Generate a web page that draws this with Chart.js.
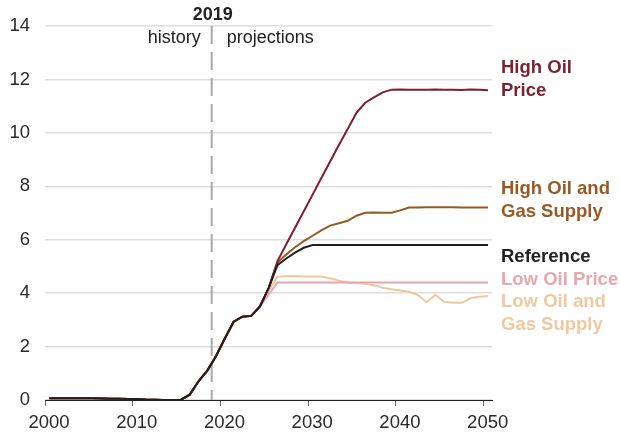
<!DOCTYPE html>
<html>
<head>
<meta charset="utf-8">
<script src="https://cdn.jsdelivr.net/npm/chart.js@4/dist/chart.umd.min.js"></script>
<style>
  html, body { margin: 0; padding: 0; background: #fff; }
  canvas { display: block; }
</style>
</head>
<body>
<canvas id="myChart" width="620" height="435"></canvas>
<script>
// annual values, 2000-2050
var years = [];
for (var y = 2000; y <= 2050; y++) years.push(y);

// shared history and early projection, 2000-2024
var sharedPast = [0.07, 0.07, 0.07, 0.07, 0.07, 0.07, 0.06, 0.05, 0.05, 0.04,
                  0.04, 0.02, 0.01, 0.00, 0.00, 0.01, 0.20, 0.70, 1.10, 1.65,
                  2.30, 2.93, 3.12, 3.15, 3.50];

// case projections, 2025-2050
var referenceCase = [4.20, 5.05, 5.30, 5.52, 5.70, 5.80, 5.80, 5.80, 5.80, 5.80,
                     5.80, 5.80, 5.80, 5.80, 5.80, 5.80, 5.80, 5.80, 5.80, 5.80,
                     5.80, 5.80, 5.80, 5.80, 5.80, 5.80];
var highOilPrice = [4.20, 5.20, 5.83, 6.45, 7.07, 7.69, 8.31, 8.93, 9.55, 10.15,
                    10.75, 11.13, 11.33, 11.52, 11.62, 11.63, 11.62, 11.62, 11.62, 11.63,
                    11.62, 11.62, 11.61, 11.63, 11.62, 11.60];
var highOilGas = [4.20, 5.15, 5.45, 5.72, 5.95, 6.15, 6.35, 6.53, 6.62, 6.71,
                  6.90, 7.01, 7.02, 7.01, 7.01, 7.10, 7.21, 7.21, 7.22, 7.22,
                  7.22, 7.22, 7.21, 7.21, 7.21, 7.21];
var lowOilPrice = [3.95, 4.40, 4.40, 4.40, 4.40, 4.40, 4.40, 4.40, 4.40, 4.40,
                   4.40, 4.40, 4.40, 4.40, 4.40, 4.40, 4.40, 4.40, 4.40, 4.40,
                   4.40, 4.40, 4.40, 4.40, 4.40, 4.40];
var lowOilGas = [4.10, 4.62, 4.63, 4.63, 4.62, 4.62, 4.62, 4.56, 4.47, 4.40,
                 4.38, 4.35, 4.30, 4.20, 4.15, 4.10, 4.05, 3.93, 3.66, 3.94,
                 3.68, 3.64, 3.64, 3.81, 3.87, 3.89];

var xTicks = [2000, 2010, 2020, 2030, 2040, 2050];
var yTicks = [0, 2, 4, 6, 8, 10, 12, 14];
var divideYear = 2019;

var FONT = '"Liberation Sans", Arial, sans-serif';

// annual values sit in the middle of their year
function series(proj) {
    return sharedPast.concat(proj).map(function(v, i) {
        return { x: years[i] + 0.5, y: v };
    });
}

function line(label, proj, color) {
    return {
        label: label,
        data: series(proj),
        borderColor: color,
        borderWidth: 2,
        pointRadius: 0,
        tension: 0,
        fill: false
    };
}

// history / projections divider and the case names at the right
var annotations = {
    id: 'annotations',
    beforeDatasetsDraw: function(chart) {
        var ctx = chart.ctx;
        var x = chart.scales.x.getPixelForValue(divideYear);
        ctx.save();
        ctx.strokeStyle = '#a9a9a9';
        ctx.lineWidth = 2;
        ctx.setLineDash([18, 8]);
        ctx.beginPath();
        ctx.moveTo(x, chart.chartArea.top);
        ctx.lineTo(x, chart.chartArea.bottom);
        ctx.stroke();
        ctx.restore();
    },
    afterDraw: function(chart) {
        var ctx = chart.ctx;
        var x = chart.scales.x.getPixelForValue(divideYear);
        ctx.save();
        ctx.textBaseline = 'alphabetic';
        ctx.fillStyle = '#222';
        ctx.font = 'bold 18px ' + FONT;
        ctx.textAlign = 'center';
        ctx.fillText(String(divideYear), x + 1, 20);
        ctx.font = '18px ' + FONT;
        ctx.textAlign = 'right';
        ctx.fillText('history', x - 11, 43);
        ctx.textAlign = 'left';
        ctx.fillText('projections', x + 15, 43);

        var names = [
            { lines: ['High Oil', 'Price'], color: '#7b2232', y: 73 },
            { lines: ['High Oil and', 'Gas Supply'], color: '#975a24', y: 194 },
            { lines: ['Reference'], color: '#222222', y: 262 },
            { lines: ['Low Oil Price'], color: '#e9a6ae', y: 285 },
            { lines: ['Low Oil and', 'Gas Supply'], color: '#f1c9a0', y: 307 }
        ];
        ctx.font = 'bold 18.5px ' + FONT;
        ctx.textAlign = 'left';
        names.forEach(function(n) {
            ctx.fillStyle = n.color;
            n.lines.forEach(function(t, i) {
                ctx.fillText(t, 501, n.y + i * 22.5);
            });
        });
        ctx.restore();
    }
};

var ctx = document.getElementById('myChart').getContext('2d');

new Chart(ctx, {
    type: 'line',
    plugins: [annotations],
    data: {
        datasets: [
            line('Reference', referenceCase, '#231f20'),
            line('High Oil Price', highOilPrice, '#7d1f2e'),
            line('High Oil and Gas Supply', highOilGas, '#98581f'),
            line('Low Oil Price', lowOilPrice, '#eaa3ac'),
            line('Low Oil and Gas Supply', lowOilGas, '#f0c79d')
        ]
    },
    options: {
        responsive: false,
        animation: false,
        devicePixelRatio: 1,
        layout: {
            padding: { top: 26, right: 128, bottom: 0, left: 0 }
        },
        plugins: {
            legend: { display: false },
            tooltip: { enabled: false }
        },
        scales: {
            x: {
                type: 'linear',
                min: 2000,
                max: 2050.95,
                afterFit: function(scale) { scale.height = 35; },
                afterBuildTicks: function(scale) {
                    scale.ticks = xTicks.map(function(v) { return { value: v }; });
                },
                grid: {
                    drawOnChartArea: false,
                    drawTicks: true,
                    tickLength: 6,
                    tickColor: '#666'
                },
                border: { display: true, color: '#222', width: 1 },
                ticks: {
                    padding: 6,
                    labelOffset: 4,
                    maxRotation: 0,
                    color: '#2a2a2a',
                    font: { family: FONT, size: 18.5 },
                    callback: function(v) { return String(v); }
                }
            },
            y: {
                min: 0,
                max: 14,
                afterFit: function(scale) { scale.width = 45; },
                afterBuildTicks: function(scale) {
                    scale.ticks = yTicks.map(function(v) { return { value: v }; });
                },
                grid: {
                    color: '#dedede',
                    lineWidth: 1.5,
                    drawTicks: false
                },
                border: { display: false },
                ticks: {
                    padding: 15,
                    color: '#2a2a2a',
                    font: { family: FONT, size: 18.5 }
                }
            }
        }
    }
});
</script>
</body>
</html>
